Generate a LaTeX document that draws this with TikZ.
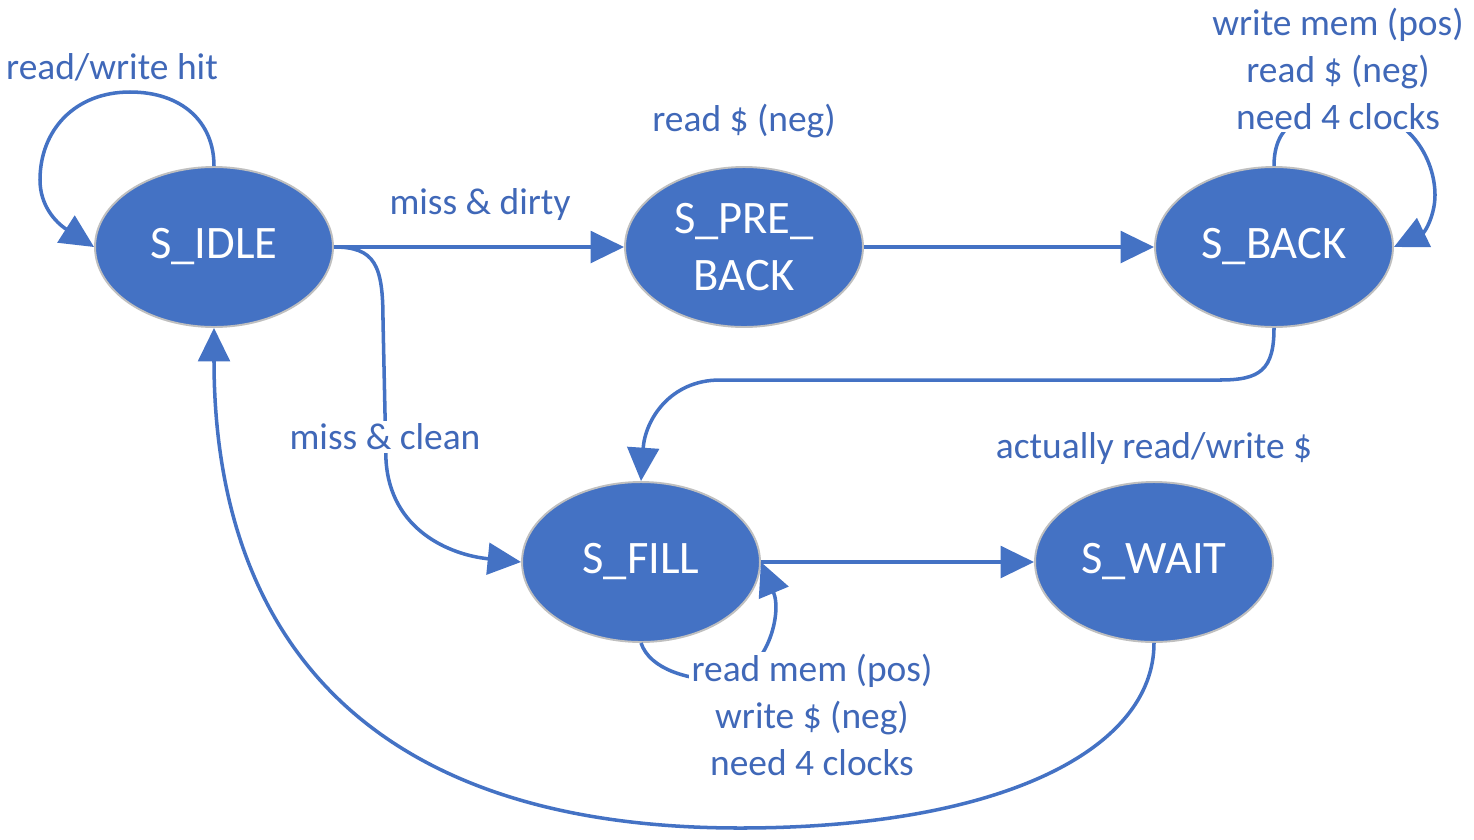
\documentclass[tikz,border=0pt]{standalone}
\usepackage{fontspec}
\setmainfont{Carlito}
\usetikzlibrary{shapes.geometric,arrows.meta}
\definecolor{blu}{HTML}{4472C4}
\definecolor{txtblu}{HTML}{4068B8}
\definecolor{edgegray}{HTML}{BFBFBF}
\begin{document}
\begin{tikzpicture}[x=0.02cm,y=-0.02cm,
 state/.style={ellipse,fill=blu,draw=edgegray,line width=1.1pt,minimum width=4.76cm,minimum height=3.2cm,inner sep=0pt,text=white,font=\fontsize{26.5}{32}\selectfont,align=center},
 lbl/.style={text=txtblu,font=\fontsize{21.3}{26.6}\selectfont,align=center,inner sep=1.5pt},
 wlbl/.style={lbl,fill=white},
 edge/.style={draw=blu,line width=2pt,-{Triangle[length=19pt,width=18pt]}}]
\useasboundingbox (0,0) rectangle (1474,839);
\node[state] (idle) at (214,247) {S\_IDLE};
\node[state] (preback) at (744,247) {S\_PRE\_\\BACK};
\node[state] (back) at (1274,247) {S\_BACK};
\node[state] (fill) at (641,562) {S\_FILL};
\node[state] (wait) at (1154,562) {S\_WAIT};
% edges
\draw[edge] (idle.north) .. controls (214,122) and (182,92) .. (130,92) .. controls (75,92) and (40,130) .. (40,180) .. controls (40,205) and (55,222) .. (idle.west);
\draw[edge] (idle) -- (preback);
\draw[edge] (preback) -- (back);
\draw[edge] (back.north) .. controls (1274,125) and (1300,110) .. (1350,110) .. controls (1410,110) and (1435,160) .. (1435,195) .. controls (1435,215) and (1425,232) .. (back.east);
\draw[edge] (back.south) .. controls (1274,370) and (1260,380) .. (1220,380) -- (720,380) .. controls (670,380) and (645,420) .. (fill.north);
\draw[edge] (idle.east) .. controls (375,247) and (383,265) .. (383,320) -- (386,460) .. controls (390,530) and (450,555) .. (fill.west);
\draw[edge] (fill) -- (wait);
\draw[edge] (fill.south) .. controls (650,670) and (690,680) .. (720,680) .. controls (765,680) and (783,615) .. (fill.east);
\draw[edge] (wait.south) .. controls (1154,750) and (1000,828) .. (740,828) .. controls (350,828) and (214,620) .. (idle.south);
% labels
\node[lbl] (lrw) at (112,67) {read/write hit};
\node[lbl] (lmd) at (480,205) {miss \& dirty};
\node[wlbl] (lmc) at (385,437) {miss \& clean};
\node[lbl] (lpre) at (744,121) {read \$ (neg)};
\node[wlbl] (lback) at (1338,69) {write mem (pos)\\read \$ (neg)\\need 4 clocks};
\node[lbl] (lwait) at (1154,449) {actually read/write \$};
\node[wlbl] (lfill) at (812,715) {read mem (pos)\\write \$ (neg)\\need 4 clocks};
\end{tikzpicture}
\end{document}
